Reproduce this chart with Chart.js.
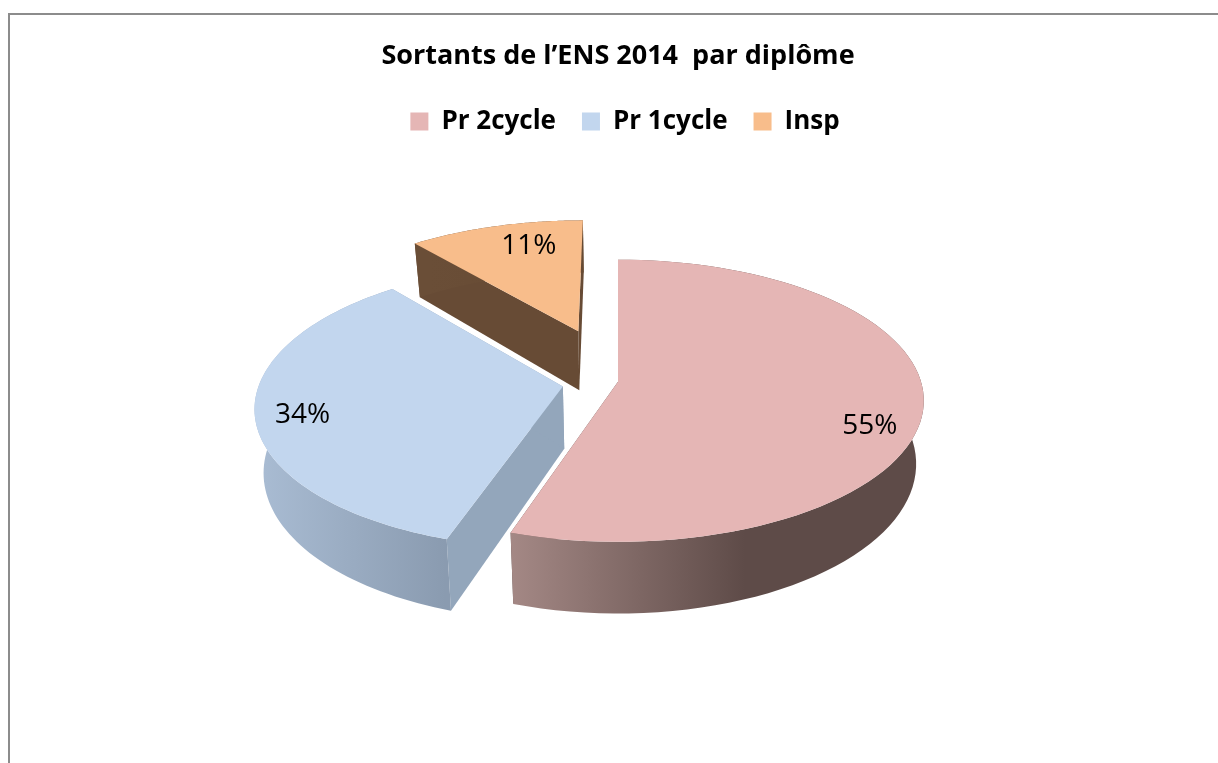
<!DOCTYPE html>
<html lang="fr">
<head>
  <meta charset="UTF-8" />
  <title>Sortants de l'ENS 2014 par diplôme</title>
  <script src="https://cdn.jsdelivr.net/npm/chart.js"></script>
  <style>
    html, body { margin: 0; padding: 0; background: #fff; overflow: hidden; }
    #frame {
      position: absolute; left: 8px; top: 13px; right: 0; height: 760px;
      border-left: 2px solid #8c8c8c; border-top: 2px solid #8c8c8c;
    }
    #pie { position: absolute; left: 0; top: 0; }
  </style>
</head>
<body>
  <div id="frame"></div>
  <canvas id="pie" width="1218" height="763"></canvas>

  <script>
    const chartTitle = 'Sortants de l’ENS 2014  par diplôme';
    const categories = ['Pr 2cycle', 'Pr 1cycle', 'Insp'];
    const shares = [55, 34, 11];
    const topColors = ['#e5b6b5', '#c2d6ee', '#f8bd8b'];
    const explode = [0, 177, 390];

    const PIE_RADIUS = 240;
    // camera used to tip the pie back: the circle turns into an ellipse
    const view = { scaleX: 303, scaleY: 138.5, tilt: 0.135, depth: 62, shrink: 0.975 };
    const sides = [
      { from: '#a58986', to: '#5e4b48', wall: '#5e4b48', x0: 508, x1: 745 },
      { from: '#a9bcd3', to: '#8a9bb0', wall: '#93a6bb', x0: 258, x1: 445 },
      { from: '#6a4e37', to: '#664a33', wall: '#674b35', x0: 430, x1: 585 }
    ];
    const labelPlace = [
      { radius: 0.85, turn: 11 },
      { radius: 0.85, turn: -2 },
      { radius: 0.79, turn: 5 }
    ];

    const project = (arc, u, v) => {
      const w = 1 - view.tilt * v;
      return { x: arc.x + view.scaleX * u / w, y: arc.y + view.scaleY * v / w, w };
    };
    const lowered = (arc, p) => ({
      x: arc.x + (p.x - arc.x) * view.shrink,
      y: p.y + view.depth / p.w
    });

    const pie3d = {
      id: 'pie3d',
      afterLayout(chart) {
        // the legend sits a little right of the title in the original
        chart.legend.left += 7;
        chart.legend.right += 7;
      },
      beforeDatasetDraw(chart, args) {
        const ctx = chart.ctx;
        const arcs = args.meta.data;

        [2, 1, 0].forEach(i => {
          const arc = arcs[i];
          const mid = (arc.startAngle + arc.endAngle) / 2;
          const off = arc.options.offset / 4 / PIE_RADIUS;
          const ou = Math.cos(mid) * off, ov = Math.sin(mid) * off;
          const apex = project(arc, ou, ov);
          const rim = [];
          const steps = 80;
          for (let s = 0; s <= steps; s++) {
            const a = arc.startAngle + (arc.endAngle - arc.startAngle) * s / steps;
            rim.push(project(arc, ou + Math.cos(a), ov + Math.sin(a)));
          }
          const side = sides[i];

          // cut walls
          [rim[0], rim[steps]].forEach(edge => {
            ctx.beginPath();
            [apex, edge, lowered(arc, edge), lowered(arc, apex)].forEach((p, n) => {
              n ? ctx.lineTo(p.x, p.y) : ctx.moveTo(p.x, p.y);
            });
            ctx.closePath();
            ctx.fillStyle = side.wall;
            ctx.fill();
          });

          // outer curved wall
          const grad = ctx.createLinearGradient(side.x0, 0, side.x1, 0);
          grad.addColorStop(0, side.from);
          grad.addColorStop(1, side.to);
          ctx.beginPath();
          rim.forEach((p, n) => { n ? ctx.lineTo(p.x, p.y) : ctx.moveTo(p.x, p.y); });
          rim.slice().reverse().forEach(p => {
            const q = lowered(arc, p);
            ctx.lineTo(q.x, q.y);
          });
          ctx.closePath();
          ctx.fillStyle = grad;
          ctx.fill();

          // top face
          ctx.beginPath();
          ctx.moveTo(apex.x, apex.y);
          rim.forEach(p => ctx.lineTo(p.x, p.y));
          ctx.closePath();
          ctx.fillStyle = arc.options.backgroundColor;
          ctx.fill();
        });

        // percent labels
        ctx.font = '28px "Open Sans"';
        ctx.fillStyle = '#000';
        ctx.textAlign = 'center';
        ctx.textBaseline = 'middle';
        arcs.forEach((arc, i) => {
          const mid = (arc.startAngle + arc.endAngle) / 2;
          const off = arc.options.offset / 4 / PIE_RADIUS;
          const at = mid + labelPlace[i].turn * Math.PI / 180;
          const p = project(arc,
            Math.cos(mid) * off + Math.cos(at) * labelPlace[i].radius,
            Math.sin(mid) * off + Math.sin(at) * labelPlace[i].radius);
          ctx.fillText(shares[i] + '%', p.x, p.y + 2);
        });
        return false;
      }
    };

    new Chart(document.getElementById('pie'), {
      type: 'pie',
      data: {
        labels: categories,
        datasets: [{
          data: shares,
          backgroundColor: topColors,
          borderWidth: 0,
          offset: explode,
          radius: PIE_RADIUS
        }]
      },
      options: {
        responsive: false,
        animation: false,
        radius: PIE_RADIUS,
        layout: { padding: { left: 18, top: 0, bottom: 144 } },
        plugins: {
          title: {
            display: true,
            text: chartTitle,
            color: '#000',
            font: { family: '"Open Sans"', size: 27, weight: 'bold' },
            padding: { top: 40, bottom: 10 }
          },
          legend: {
            position: 'top',
            labels: {
              color: '#000',
              boxWidth: 18,
              boxHeight: 18,
              padding: 26,
              font: { family: '"Open Sans"', size: 26, weight: 'bold' }
            }
          },
          tooltip: { enabled: false }
        }
      },
      plugins: [pie3d]
    });
  </script>
</body>
</html>
